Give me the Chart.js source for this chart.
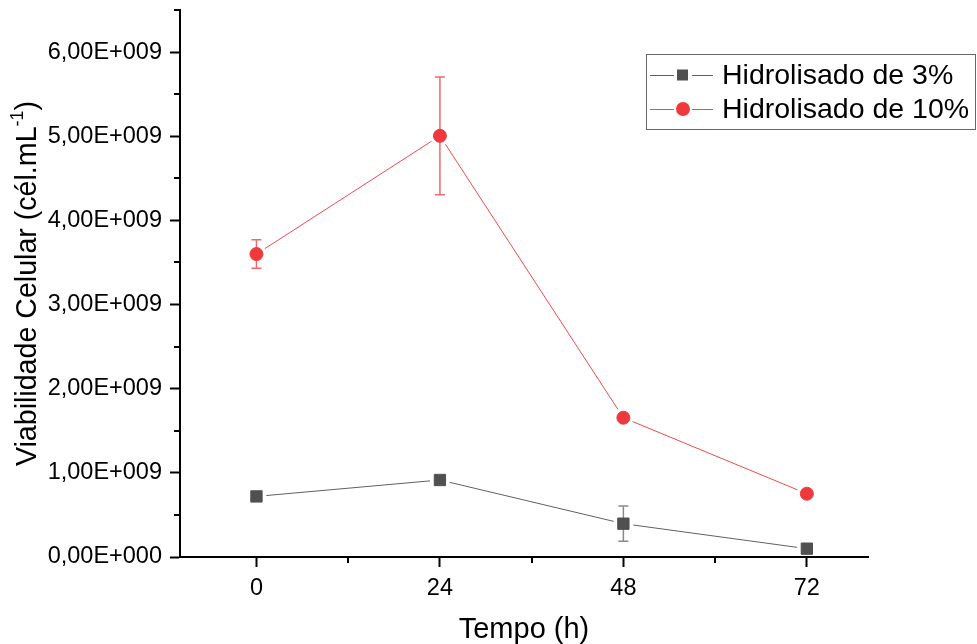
<!DOCTYPE html>
<html>
<head>
<meta charset="utf-8">
<script src="https://cdn.jsdelivr.net/npm/chart.js@4/dist/chart.umd.min.js"></script>
<style>
  html, body { margin: 0; padding: 0; background: #fff; }
  #wrap { width: 977px; height: 644px; position: relative; }
</style>
</head>
<body>
<div id="wrap"><canvas id="chart"></canvas></div>
<script>
// data
const times = [0, 24, 48, 72];
const hidro3 = [0.72e9, 0.915e9, 0.396e9, 0.099e9];
const hidro3Err = [0, 0, 0.21e9, 0];
const hidro10 = [3.60e9, 5.005e9, 1.655e9, 0.752e9];
const hidro10Err = [0.17e9, 0.70e9, 0, 0];

const xTicks = [0, 24, 48, 72];
const xMinorTicks = [12, 36, 60];
const yTicks = [0, 1e9, 2e9, 3e9, 4e9, 5e9, 6e9];
const yMinorTicks = [0.5e9, 1.5e9, 2.5e9, 3.5e9, 4.5e9, 5.5e9, 6.5e9];

const FONT = "'Liberation Sans', Arial, sans-serif";
const GRAY = '#505050';
const RED = '#f0393d';

function sciLabel(v) {
    if (v === 0) return '0,00E+000';
    const exp = Math.floor(Math.log10(v));
    const mant = v / Math.pow(10, exp);
    return mant.toFixed(2).replace('.', ',') + 'E+' + String(exp).padStart(3, '0');
}

// lines between markers, with a small gap at each marker (Origin style)
const gapLines = {
    id: 'gapLines',
    beforeDatasetsDraw(chart) {
        const ctx = chart.ctx;
        chart.data.datasets.forEach((ds, i) => {
            const pts = chart.getDatasetMeta(i).data;
            ctx.save();
            ctx.strokeStyle = ds.borderColor;
            ctx.lineWidth = 1;
            ctx.beginPath();
            for (let k = 0; k < pts.length - 1; k++) {
                const a = pts[k], b = pts[k + 1];
                const dx = b.x - a.x, dy = b.y - a.y;
                const len = Math.hypot(dx, dy);
                const ux = dx / len, uy = dy / len, g = 10;
                ctx.moveTo(a.x + ux * g, a.y + uy * g);
                ctx.lineTo(b.x - ux * g, b.y - uy * g);
            }
            ctx.stroke();
            ctx.restore();
        });
    }
};

const errorBars = {
    id: 'errorBars',
    beforeDatasetsDraw(chart) {
        const ctx = chart.ctx;
        const x = chart.scales.x, y = chart.scales.y;
        chart.data.datasets.forEach(ds => {
            if (!ds.errors) return;
            ctx.save();
            ctx.strokeStyle = ds.errorColor;
            ctx.lineWidth = 1.5;
            ds.data.forEach((p, k) => {
                const e = ds.errors[k];
                if (!e) return;
                const px = x.getPixelForValue(p.x);
                const top = y.getPixelForValue(p.y + e);
                const bot = y.getPixelForValue(p.y - e);
                ctx.beginPath();
                ctx.moveTo(px, top); ctx.lineTo(px, bot);
                ctx.moveTo(px - 5, top); ctx.lineTo(px + 5, top);
                ctx.moveTo(px - 5, bot); ctx.lineTo(px + 5, bot);
                ctx.stroke();
            });
            ctx.restore();
        });
    }
};

const extras = {
    id: 'extras',
    afterDraw(chart) {
        const ctx = chart.ctx;
        const x = chart.scales.x, y = chart.scales.y;
        const area = chart.chartArea;
        ctx.save();
        // minor ticks
        ctx.strokeStyle = '#000';
        ctx.lineWidth = 2;
        ctx.beginPath();
        xMinorTicks.forEach(v => {
            const px = Math.round(x.getPixelForValue(v));
            ctx.moveTo(px, area.bottom); ctx.lineTo(px, area.bottom + 6);
        });
        yMinorTicks.forEach(v => {
            const py = Math.round(y.getPixelForValue(v));
            ctx.moveTo(area.left - 6, py); ctx.lineTo(area.left, py);
        });
        ctx.stroke();

        // y axis title with superscript
        const main = 'Viabilidade Celular (cél.mL';
        const sup = '-1';
        const end = ')';
        const fs = 28.6;
        ctx.fillStyle = '#000';
        ctx.font = fs + 'px ' + FONT;
        const w1 = ctx.measureText(main).width;
        const w3 = ctx.measureText(end).width;
        ctx.font = Math.round(fs * 0.62) + 'px ' + FONT;
        const w2 = ctx.measureText(sup).width;
        const total = w1 + w2 + w3;
        ctx.translate(36, (area.top + area.bottom) / 2 + total / 2);
        ctx.rotate(-Math.PI / 2);
        ctx.textBaseline = 'alphabetic';
        ctx.textAlign = 'left';
        ctx.font = fs + 'px ' + FONT;
        ctx.fillText(main, 0, 0);
        ctx.font = Math.round(fs * 0.62) + 'px ' + FONT;
        ctx.fillText(sup, w1, -fs * 0.45);
        ctx.font = fs + 'px ' + FONT;
        ctx.fillText(end, w1 + w2, 0);
        ctx.restore();

        // legend
        ctx.save();
        ctx.strokeStyle = '#666';
        ctx.lineWidth = 1;
        ctx.strokeRect(646.5, 54.5, 329, 75);
        ctx.font = '28.5px ' + FONT;
        ctx.textBaseline = 'middle';
        ctx.fillStyle = '#000';
        const rows = [75, 109];
        chart.data.datasets.forEach((ds, i) => {
            const cy = rows[i];
            ctx.strokeStyle = ds.borderColor;
            ctx.beginPath();
            ctx.moveTo(650, cy + 0.5); ctx.lineTo(674, cy + 0.5);
            ctx.moveTo(692, cy + 0.5); ctx.lineTo(713, cy + 0.5);
            ctx.stroke();
            ctx.fillStyle = ds.pointBackgroundColor;
            if (ds.pointStyle === 'rect') {
                ctx.fillRect(677, cy - 5.5, 11, 11);
            } else {
                ctx.beginPath();
                ctx.arc(683, cy, 7, 0, Math.PI * 2);
                ctx.fill();
            }
            ctx.fillStyle = '#000';
            ctx.fillText(ds.label, 722, cy + 1);
        });
        ctx.restore();
    }
};

const ctx = document.getElementById('chart');
new Chart(ctx, {
    type: 'line',
    data: {
        datasets: [
            {
                label: 'Hidrolisado de 3%',
                data: times.map((t, i) => ({ x: t, y: hidro3[i] })),
                errors: hidro3Err,
                errorColor: '#8a8a8a',
                showLine: false,
                borderColor: '#606060',
                pointStyle: 'rect',
                pointRadius: 8,
                pointHoverRadius: 8,
                pointBorderWidth: 1,
                pointBackgroundColor: GRAY,
                pointBorderColor: GRAY
            },
            {
                label: 'Hidrolisado de 10%',
                data: times.map((t, i) => ({ x: t, y: hidro10[i] })),
                errors: hidro10Err,
                errorColor: '#f06a6a',
                showLine: false,
                borderColor: '#f24a4a',
                pointStyle: 'circle',
                pointRadius: 6.5,
                pointHoverRadius: 6.5,
                pointBorderWidth: 1,
                pointBackgroundColor: RED,
                pointBorderColor: RED
            }
        ]
    },
    options: {
        responsive: true,
        maintainAspectRatio: false,
        animation: false,
        layout: { padding: { left: 0, top: 10, right: 109, bottom: 0 } },
        plugins: {
            legend: { display: false },
            tooltip: { enabled: false }
        },
        scales: {
            x: {
                type: 'linear',
                min: -10,
                max: 80,
                afterBuildTicks: s => { s.ticks = xTicks.map(v => ({ value: v })); },
                afterFit: s => { s.height = 87; },
                border: { display: true, color: '#000', width: 2 },
                grid: { display: true, drawOnChartArea: false, drawTicks: true, tickLength: 10, tickWidth: 2, tickColor: '#000' },
                ticks: { color: '#000', font: { family: FONT, size: 23.5 }, padding: 7 },
                title: {
                    display: true,
                    text: 'Tempo (h)',
                    color: '#000',
                    font: { family: FONT, size: 29, lineHeight: 1 },
                    padding: { top: 0, bottom: 0 }
                }
            },
            y: {
                type: 'linear',
                min: 0,
                max: 6.5e9,
                afterBuildTicks: s => { s.ticks = yTicks.map(v => ({ value: v })); },
                afterFit: s => { s.width = 180; s.paddingTop = 0; s.paddingBottom = 0; },
                border: { display: true, color: '#000', width: 2 },
                grid: { display: true, drawOnChartArea: false, drawTicks: true, tickLength: 10, tickWidth: 2, tickColor: '#000' },
                ticks: { color: '#000', font: { family: FONT, size: 23.5 }, padding: 8, callback: v => sciLabel(v) }
            }
        }
    },
    plugins: [gapLines, errorBars, extras]
});
</script>
</body>
</html>
